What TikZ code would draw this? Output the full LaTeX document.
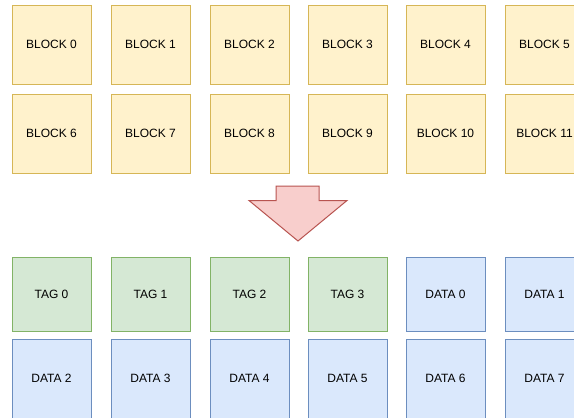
\documentclass[tikz,border=0pt]{standalone}
\usepackage{fontspec}
\setmainfont{Liberation Sans}
\definecolor{yfill}{HTML}{FFF2CC}
\definecolor{ydraw}{HTML}{D6B656}
\definecolor{gfill}{HTML}{D5E8D4}
\definecolor{gdraw}{HTML}{82B366}
\definecolor{bfill}{HTML}{DAE8FC}
\definecolor{bdraw}{HTML}{6C8EBF}
\definecolor{rfill}{HTML}{F8CECC}
\definecolor{rdraw}{HTML}{B85450}
\tikzset{
  cell/.style={draw, line width=1pt, minimum width=79pt, inner sep=0pt,
    font=\fontsize{12}{14}\selectfont, text=black},
  blockcell/.style={cell, fill=yfill, draw=ydraw, minimum height=79pt},
  tagcell/.style={cell, fill=gfill, draw=gdraw, minimum height=74pt},
  datacell/.style={cell, fill=bfill, draw=bdraw},
}
\begin{document}
\begin{tikzpicture}[x=1pt, y=-1pt]
\fill[white] (0,0) rectangle (574,418);
\clip (0,0) rectangle (574,418);
\useasboundingbox (0,0) rectangle (574,418);
% input blocks
\foreach \i/\x in {0/12,1/111,2/210,3/308,4/406,5/505} {
  \node[blockcell] (b\i) at (\x+39.5,44.5) {BLOCK \i};
}
\foreach \i/\x in {6/12,7/111,8/210,9/308,10/406,11/505} {
  \node[blockcell] (b\i) at (\x+39.5,133.5) {BLOCK \i};
}
% down arrow
\draw[fill=rfill, draw=rdraw, line width=1pt, line join=miter]
  (276,186) -- (319,186) -- (319,200.5) -- (347,200.5) -- (298,241)
  -- (249,200.5) -- (276,200.5) -- cycle;
% tag and data layout
\foreach \i/\x in {0/12,1/111,2/210,3/308} {
  \node[tagcell] (t\i) at (\x+39.5,294) {TAG \i};
}
\node[datacell, minimum height=74pt] (d0) at (406+39.5,294) {DATA 0};
\node[datacell, minimum height=74pt] (d1) at (505+39.5,294) {DATA 1};
\foreach \i/\x in {2/12,3/111,4/210,5/308,6/406,7/505} {
  \node[datacell, minimum height=79pt] (d\i) at (\x+39.5,378.5) {DATA \i};
}
\end{tikzpicture}
\end{document}
